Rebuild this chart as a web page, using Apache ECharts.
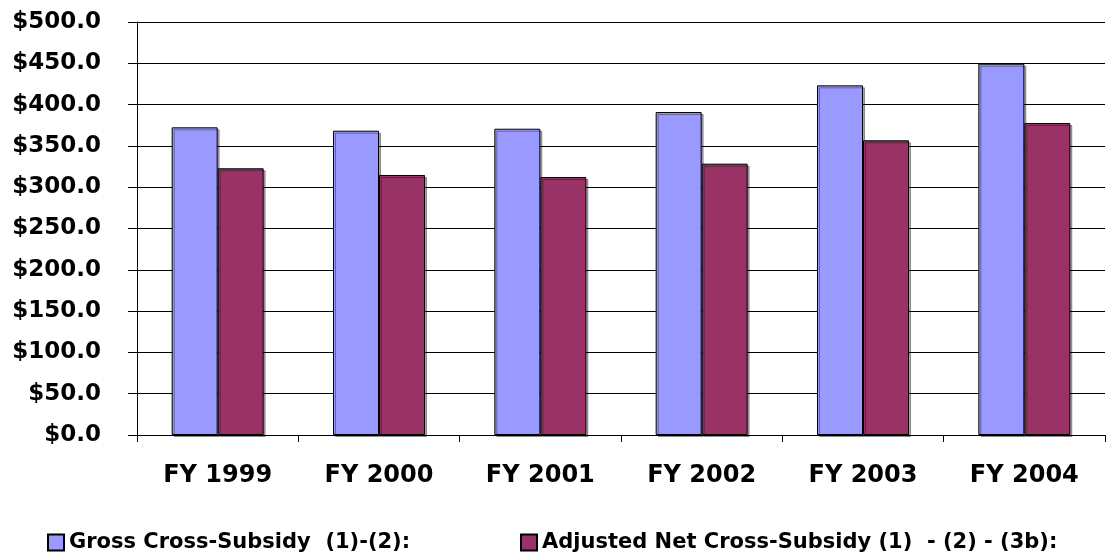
<!DOCTYPE html>
<html>
<head>
<meta charset="utf-8">
<script src="https://cdn.jsdelivr.net/npm/echarts@6/dist/echarts.min.js"></script>
<style>
    html, body { margin: 0; padding: 0; background: #fff; }
    #myChart { width: 1107px; height: 557px; }
</style>
</head>
<body>
<div id="myChart"></div>
<script>
    // 数据
    var years = ['FY 1999', 'FY 2000', 'FY 2001', 'FY 2002', 'FY 2003', 'FY 2004'];
    var grossName = 'Gross Cross-Subsidy  (1)-(2):';
    var adjustedName = 'Adjusted Net Cross-Subsidy (1)  - (2) - (3b):';
    var gross = [372.5, 368.4, 370.8, 391.0, 423.3, 449.5];
    var adjusted = [322.9, 314.8, 312.3, 328.5, 356.8, 377.7];

    var font = 'DejaVu Sans, sans-serif';
    var legendText = { fontFamily: font, fontWeight: 'bold', fontSize: 21, color: '#000' };
    var barStyle = {
        borderColor: '#000',
        borderWidth: 1,
        shadowColor: 'rgba(0,0,0,0.35)',
        shadowOffsetX: 2,
        shadowOffsetY: 2
    };

    var myChart = echarts.init(document.getElementById('myChart'));
    myChart.setOption({
        animation: false,
        color: ['#9999FF', '#993366'],
        grid: {
            left: 137,
            right: 2,
            top: 22,
            bottom: 122
        },
        legend: [
            {
                data: [grossName],
                icon: 'rect',
                left: 47,
                top: 532,
                padding: 0,
                itemWidth: 16,
                itemHeight: 16,
                textStyle: legendText
            },
            {
                data: [adjustedName],
                icon: 'rect',
                left: 520,
                top: 532,
                padding: 0,
                itemWidth: 16,
                itemHeight: 16,
                textStyle: legendText
            }
        ],
        xAxis: {
            type: 'category',
            data: years,
            axisLine: { lineStyle: { color: '#000', width: 1 } },
            axisTick: { show: true, length: 7, lineStyle: { color: '#000' } },
            axisLabel: {
                margin: 29,
                color: '#000',
                fontFamily: font,
                fontWeight: 'bold',
                fontSize: 24
            }
        },
        yAxis: {
            type: 'value',
            min: 0,
            max: 500,
            interval: 50,
            axisLine: { show: true, lineStyle: { color: '#000', width: 1 } },
            axisTick: { show: true, length: 9, lineStyle: { color: '#000' } },
            splitLine: { lineStyle: { color: '#000', width: 1 } },
            axisLabel: {
                margin: 36,
                color: '#000',
                fontFamily: font,
                fontWeight: 'bold',
                fontSize: 23,
                formatter: function (v) { return '$' + v.toFixed(1); }
            }
        },
        series: [
            {
                name: grossName,
                type: 'bar',
                data: gross,
                barWidth: 46,
                barGap: '0%',
                itemStyle: barStyle
            },
            {
                name: adjustedName,
                type: 'bar',
                data: adjusted,
                barWidth: 46,
                barGap: '0%',
                itemStyle: barStyle
            }
        ]
    });
</script>
</body>
</html>
